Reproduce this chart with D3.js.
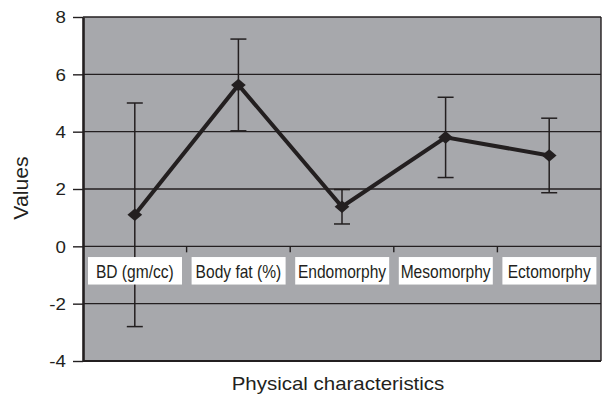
<!DOCTYPE html>
<html>
<head>
<meta charset="utf-8">
<script src="https://cdn.jsdelivr.net/npm/d3@7"></script>
<style>
  html, body { margin: 0; padding: 0; background: #fff; }
  svg { display: block; font-family: "Liberation Sans", Arial, sans-serif; }
</style>
</head>
<body>
<svg id="chart" width="604" height="397"></svg>
<script>
// Physical characteristics: mean values with ± error bars
const categories = ["BD (gm/cc)", "Body fat (%)", "Endomorphy", "Mesomorphy", "Ectomorphy"];
const means      = [1.1, 5.63, 1.38, 3.8, 3.17];
const errors     = [3.9, 1.6, 0.6, 1.4, 1.3];
const yTicks     = [-4, -2, 0, 2, 4, 6, 8];

const svg = d3.select("#chart");
const margin = { left: 83, right: 3, top: 17, bottom: 36 };
const W = 604, H = 397;
const x0 = margin.left, x1 = W - margin.right;
const y0 = margin.top, y1 = H - margin.bottom;

const x = d3.scaleBand().domain(categories).range([x0, x1]).padding(0);
const y = d3.scaleLinear().domain([-4, 8]).range([y1, y0]);

const ink = "#231f20";
const FONT = "Liberation Sans, Arial, sans-serif";

// plot background
svg.append("rect")
  .attr("x", x0).attr("y", y0)
  .attr("width", x1 - x0).attr("height", y1 - y0)
  .attr("fill", "#a7a8ac");

// horizontal gridlines
svg.append("g").selectAll("line").data(yTicks).join("line")
  .attr("x1", x0).attr("x2", x1)
  .attr("y1", d => y(d)).attr("y2", d => y(d))
  .attr("stroke", ink).attr("stroke-width", 1.4);

// right border
svg.append("line")
  .attr("x1", x1).attr("x2", x1).attr("y1", y0).attr("y2", y1)
  .attr("stroke", ink).attr("stroke-width", 1.4);
// bottom border
svg.append("line")
  .attr("x1", x0).attr("x2", x1).attr("y1", y1).attr("y2", y1)
  .attr("stroke", ink).attr("stroke-width", 2);

// y axis (hyphen-minus labels)
const tickStretch = 1.15, tickGap = 17;
const yAxis = d3.axisLeft(y).tickValues(yTicks).tickSize(10).tickSizeOuter(0)
  .tickFormat(d => String(d));
const gy = svg.append("g").attr("transform", `translate(${x0},0)`).call(yAxis);
gy.select(".domain").attr("stroke", ink).attr("stroke-width", 2.6);
gy.selectAll(".tick line").attr("stroke", ink).attr("stroke-width", 1.4);
gy.selectAll(".tick text")
  .attr("fill", ink)
  .attr("x", -tickGap / tickStretch)
  .attr("dy", "0.36em")
  .attr("transform", `scale(${tickStretch},1)`)
  .style("font-size", "16.3px").style("font-family", FONT);

// category boundary ticks on the zero line
const bounds = categories.slice(1).map(c => x(c));
svg.append("g").selectAll("line").data(bounds).join("line")
  .attr("x1", d => d).attr("x2", d => d)
  .attr("y1", y(0)).attr("y2", y(0) + 6)
  .attr("stroke", ink).attr("stroke-width", 1.4);

// error bars
const cx = c => x(c) + x.bandwidth() / 2;
const eb = svg.append("g").selectAll("g").data(categories).join("g");
eb.append("line")
  .attr("x1", d => cx(d)).attr("x2", d => cx(d))
  .attr("y1", (d, i) => y(means[i] + errors[i]))
  .attr("y2", (d, i) => y(means[i] - errors[i]))
  .attr("stroke", ink).attr("stroke-width", 1.5);
[1, -1].forEach(s => {
  eb.append("line")
    .attr("x1", d => cx(d) - 8).attr("x2", d => cx(d) + 8)
    .attr("y1", (d, i) => y(means[i] + s * errors[i]))
    .attr("y2", (d, i) => y(means[i] + s * errors[i]))
    .attr("stroke", ink).attr("stroke-width", 1.5);
});

// category labels in white boxes (drawn over the error bars)
const labStretch = 0.89;
const lab = svg.append("g").selectAll("g").data(categories).join("g");
lab.append("rect")
  .attr("x", d => x(d) + 5)
  .attr("y", y(0) + 10.7)
  .attr("width", x.bandwidth() - 9.6)
  .attr("height", 27.5)
  .attr("fill", "#fff");
lab.append("text")
  .attr("transform", d => `translate(${x(d) + x.bandwidth() / 2},${y(0) + 32}) scale(${labStretch},1)`)
  .attr("text-anchor", "middle")
  .attr("fill", ink)
  .style("font-size", "17.5px").style("font-family", FONT)
  .text(d => d);

// mean line
const line = d3.line().x((d, i) => cx(categories[i])).y(d => y(d));
svg.append("path").datum(means)
  .attr("d", line)
  .attr("fill", "none").attr("stroke", ink)
  .attr("stroke-width", 4).attr("stroke-linejoin", "miter");

// diamond markers
svg.append("g").selectAll("path").data(means).join("path")
  .attr("d", d3.symbol().type(d3.symbolDiamond2).size(125))
  .attr("transform", (d, i) => `translate(${cx(categories[i])},${y(d)}) scale(1.05,0.9)`)
  .attr("fill", ink);

// axis titles
svg.append("text")
  .attr("transform", `translate(${(x0 + x1) / 2 - 4},390) scale(1.1,1)`)
  .attr("text-anchor", "middle").attr("fill", ink)
  .style("font-size", "18.6px").style("font-family", FONT)
  .text("Physical characteristics");

svg.append("text")
  .attr("transform", `translate(28,188) rotate(-90) scale(1.09,1)`)
  .attr("text-anchor", "middle").attr("fill", ink)
  .style("font-size", "19.5px").style("font-family", FONT)
  .text("Values");
</script>
</body>
</html>
